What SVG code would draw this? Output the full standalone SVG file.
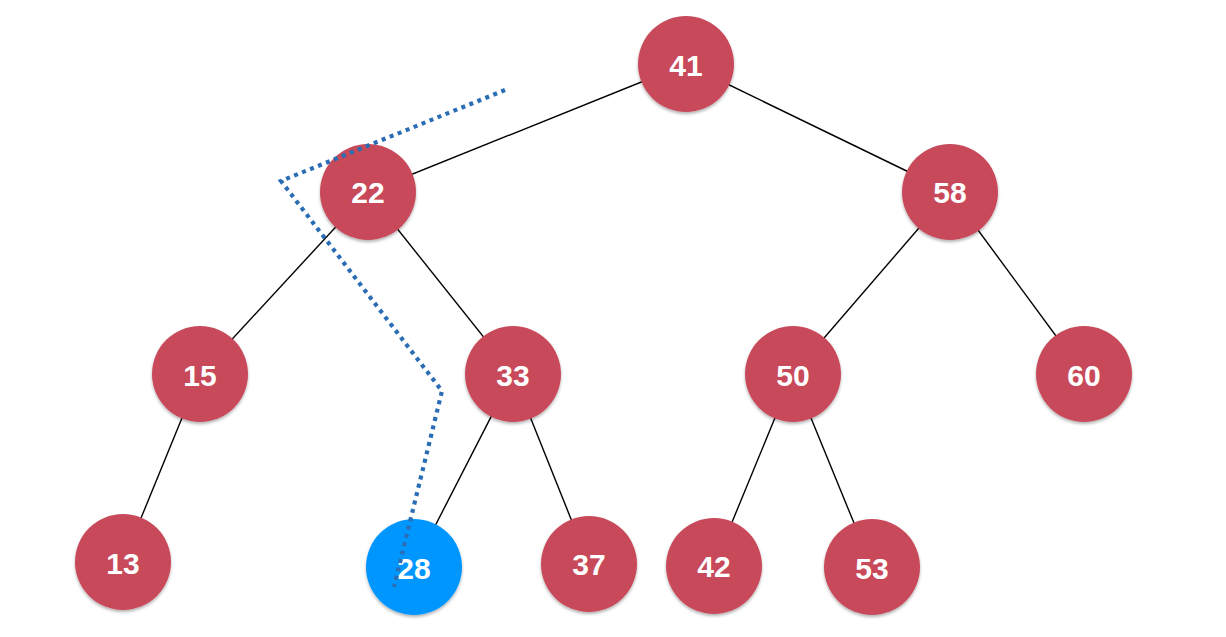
<svg xmlns="http://www.w3.org/2000/svg" width="1226" height="637" viewBox="0 0 1226 637">
<style>
.n{fill:#c8495a;filter:url(#sh)}
.b{fill:#0096ff;filter:url(#sh)}
.t{font-family:"Liberation Sans",Arial,sans-serif;font-weight:bold;font-size:30px;fill:#fff;text-anchor:middle;dominant-baseline:central}
.e{stroke:#000;stroke-width:1.4;fill:none}
.d{stroke:#2a6db5;stroke-width:4.2;fill:none;stroke-dasharray:4 4.6}
</style>
<defs>
<filter id="sh" x="-20%" y="-20%" width="140%" height="150%">
<feDropShadow dx="0" dy="2" stdDeviation="1.5" flood-color="#000" flood-opacity="0.3"/>
</filter>
</defs>
<rect width="1226" height="637" fill="#fff"/>
<g id="connectors">
<line class="e" x1="686" y1="64" x2="368" y2="192"/>
<line class="e" x1="686" y1="64" x2="950" y2="192"/>
<line class="e" x1="368" y1="192" x2="200" y2="374"/>
<line class="e" x1="368" y1="192" x2="513" y2="374"/>
<line class="e" x1="950" y1="192" x2="793" y2="374"/>
<line class="e" x1="950" y1="192" x2="1084" y2="374"/>
<line class="e" x1="200" y1="374" x2="123" y2="562"/>
<line class="e" x1="513" y1="374" x2="414" y2="567"/>
<line class="e" x1="513" y1="374" x2="589" y2="564"/>
<line class="e" x1="793" y1="374" x2="714" y2="566"/>
<line class="e" x1="793" y1="374" x2="872" y2="567"/>
</g>
<g id="n41"><circle class="n" cx="686" cy="64" r="48"/><text class="t" x="686" y="65">41</text></g>
<g id="n22"><circle class="n" cx="368" cy="192" r="48"/><text class="t" x="368" y="192">22</text></g>
<g id="n58"><circle class="n" cx="950" cy="192" r="48"/><text class="t" x="950" y="192">58</text></g>
<g id="n15"><circle class="n" cx="200" cy="374" r="48"/><text class="t" x="200" y="375">15</text></g>
<g id="n33"><circle class="n" cx="513" cy="374" r="48"/><text class="t" x="513" y="375">33</text></g>
<g id="n50"><circle class="n" cx="793" cy="374" r="48"/><text class="t" x="793" y="375">50</text></g>
<g id="n60"><circle class="n" cx="1084" cy="374" r="48"/><text class="t" x="1084" y="375">60</text></g>
<g id="n13"><circle class="n" cx="123" cy="562" r="48"/><text class="t" x="123" y="563">13</text></g>
<g id="n28"><circle class="b" cx="414" cy="567" r="48"/><text class="t" x="414" y="568">28</text></g>
<g id="n37"><circle class="n" cx="589" cy="564" r="48"/><text class="t" x="589" y="564">37</text></g>
<g id="n42"><circle class="n" cx="714" cy="566" r="48"/><text class="t" x="714" y="566">42</text></g>
<g id="n53"><circle class="n" cx="872" cy="567" r="48"/><text class="t" x="872" y="568">53</text></g>
<g id="path">
<polyline class="d" points="505,90 281,181 442,391 394,587"/>
</g>
</svg>
